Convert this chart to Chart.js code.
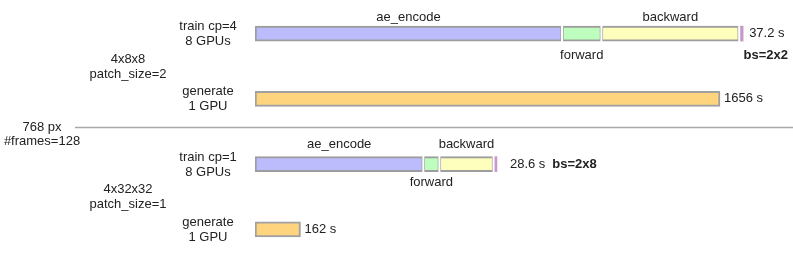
<!DOCTYPE html>
<html>
<head>
<meta charset="utf-8">
<script src="https://cdn.jsdelivr.net/npm/chart.js@4.4.1/dist/chart.umd.min.js"></script>
<style>
  html, body { margin: 0; padding: 0; background: #fff; overflow: hidden; }
  #wrap { position: relative; width: 793px; height: 262px; }
</style>
</head>
<body>
<div id="wrap"><canvas id="chart"></canvas></div>
<script>
// rows, top to bottom
const rows = ['train_8x8', 'generate_8x8', 'train_32x32', 'generate_32x32'];
const rowLabels = [['train cp=4', '8 GPUs'], ['generate', '1 GPU'], ['train cp=1', '8 GPUs'], ['generate', '1 GPU']];
const groupLabels = [['4x8x8', 'patch_size=2'], ['4x32x32', 'patch_size=1']];
const sharedLabel = ['768 px', '#frames=128'];

// train step breakdown (s)
const stages = ['ae_encode', 'forward', 'backward', 'other'];
const trainCp4 = [23.4, 3.0, 10.5, 0.3];
const trainCp1 = [19.9, 1.9, 6.4, 0.4];
const trainTotals = [37.2, 28.6];
const batchSizes = ['bs=2x2', 'bs=2x8'];

// generation time (s)
const generateTimes = [1656, 162];

const stageColors = ['#bcbcfd', '#bdfdbd', '#fefebd', '#c99ac9'];
const labelSide = ['above', 'below', 'above', null];
// label distance from bar centre: [above, below] per train row
const labelOffset = { 0: [-16, 22], 2: [-20, 18] };
const FONT = '13px "Liberation Sans", Arial, sans-serif';
const BOLD = 'bold 13px "Liberation Sans", Arial, sans-serif';
const TEXT = '#222';

function rowData(rowIdx, v) {
  return rows.map((_, i) => i === rowIdx ? v : null);
}

// every dataset in one stack group so the bars sit centred on their row;
// the separate x axes keep top / bottom / generate from summing together
const datasets = [];
[[trainCp4, 0, 'xTop'], [trainCp1, 2, 'xBot']].forEach(([vals, row, axis]) => {
  vals.forEach((v, s) => {
    datasets.push({
      label: stages[s],
      data: rowData(row, v),
      xAxisID: axis,
      stack: 'all',
      backgroundColor: stageColors[s],
      borderColor: '#9d9d9d',
      borderWidth: s === 3 ? 0 : 2,
      borderSkipped: false,
      barThickness: 15,
      stage: s,
      row: row
    });
  });
});
datasets.push({
  label: 'generate',
  data: rows.map((_, i) => i === 1 ? generateTimes[0] : i === 3 ? generateTimes[1] : null),
  xAxisID: 'xGen',
  stack: 'all',
  backgroundColor: '#ffd47f',
  borderColor: '#a0a0a0',
  borderWidth: 2,
  borderSkipped: false,
  barThickness: 15
});

const annotate = {
  id: 'annotate',
  afterDatasetsDraw(chart) {
    const ctx = chart.ctx;
    const y = chart.scales.y;
    const cy = rows.map((_, i) => y.getPixelForValue(i));
    ctx.save();

    // white gap between stacked segments
    chart.data.datasets.forEach((ds, i) => {
      if (ds.stage === undefined || ds.stage === 3) return;
      const bar = chart.getDatasetMeta(i).data[ds.row];
      ctx.fillStyle = '#fff';
      ctx.fillRect(bar.x - 1, bar.y - bar.height / 2 - 1, 2, bar.height + 2);
    });

    ctx.fillStyle = TEXT;
    ctx.font = FONT;
    ctx.textBaseline = 'middle';

    // segment names
    chart.data.datasets.forEach((ds, i) => {
      if (ds.stage === undefined || !labelSide[ds.stage]) return;
      const bar = chart.getDatasetMeta(i).data[ds.row];
      const mx = (bar.x + bar.base) / 2;
      const off = labelOffset[ds.row];
      const ty = bar.y + (labelSide[ds.stage] === 'above' ? off[0] : off[1]);
      ctx.textAlign = 'center';
      ctx.fillText(ds.label, mx, ty);
    });

    // totals
    const last = (row) => {
      const idx = chart.data.datasets.findIndex(d => d.row === row && d.stage === 3);
      return chart.getDatasetMeta(idx).data[row];
    };
    const genMeta = chart.getDatasetMeta(chart.data.datasets.length - 1);
    ctx.textAlign = 'left';
    ctx.fillText(trainTotals[0] + ' s', last(0).x + 6, cy[0]);
    const botEnd = last(2).x;
    const botText = trainTotals[1] + ' s';
    ctx.fillText(botText, botEnd + 13, cy[2]);
    const botTextEnd = botEnd + 13 + ctx.measureText(botText).width;
    ctx.fillText(generateTimes[0] + ' s', genMeta.data[1].x + 4, cy[1]);
    ctx.fillText(generateTimes[1] + ' s', genMeta.data[3].x + 4, cy[3]);

    // batch sizes
    ctx.font = BOLD;
    ctx.textAlign = 'right';
    ctx.fillText(batchSizes[0], chart.width - 5, cy[0] + 22);
    ctx.textAlign = 'left';
    ctx.fillText(batchSizes[1], botTextEnd + 7, cy[2]);

    // row + group labels
    ctx.font = FONT;
    ctx.textAlign = 'center';
    rowLabels.forEach((lines, i) => {
      ctx.fillText(lines[0], 208, cy[i] - 7);
      ctx.fillText(lines[1], 208, cy[i] + 8);
    });
    groupLabels.forEach((lines, g) => {
      const gy = (cy[g * 2] + cy[g * 2 + 1]) / 2;
      ctx.fillText(lines[0], 128, gy - 7);
      ctx.fillText(lines[1], 128, gy + 8);
    });

    // separator
    const sy = (cy[1] + cy[2]) / 2 - 4;
    ctx.strokeStyle = '#a8a8a8';
    ctx.lineWidth = 1.5;
    ctx.beginPath();
    ctx.moveTo(75, sy);
    ctx.lineTo(chart.width, sy);
    ctx.stroke();
    ctx.fillText(sharedLabel[0], 42, sy);
    ctx.fillText(sharedLabel[1], 42, sy + 14);

    ctx.restore();
  }
};

new Chart(document.getElementById('chart'), {
  type: 'bar',
  data: { labels: rows, datasets: datasets },
  options: {
    indexAxis: 'y',
    responsive: true,
    maintainAspectRatio: false,
    animation: false,
    layout: { padding: { left: 255, right: 0, top: 1, bottom: 0 } },
    plugins: { legend: { display: false }, tooltip: { enabled: false } },
    scales: {
      y: { type: 'category', stacked: true, display: false },
      xTop: { type: 'linear', stacked: true, display: false, min: 0, max: 41.0 },
      xBot: { type: 'linear', stacked: true, display: false, min: 0, max: 63.6 },
      xGen: { type: 'linear', stacked: true, display: false, min: 0, max: 1916 }
    }
  },
  plugins: [annotate]
});
</script>
</body>
</html>
